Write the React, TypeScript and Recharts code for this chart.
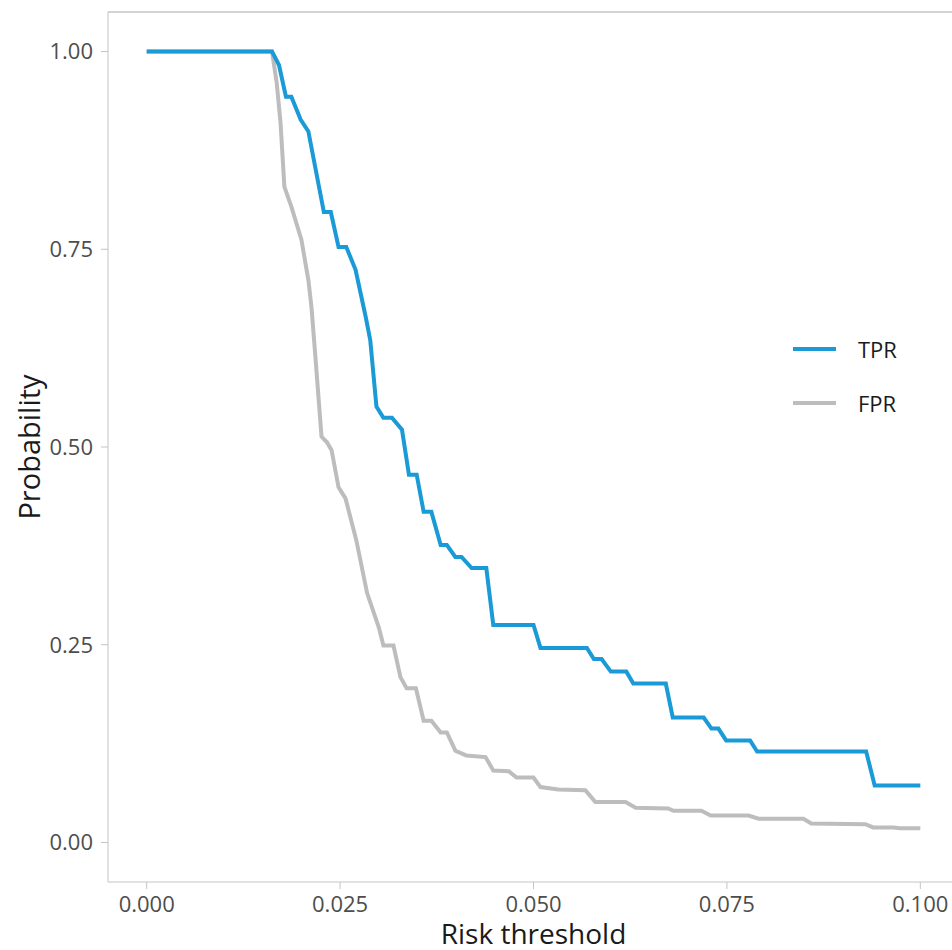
import { LineChart, Line, XAxis, YAxis, ReferenceLine } from 'recharts';

const tprThreshold = [0, 0.0162, 0.0171, 0.018, 0.0187, 0.0199, 0.0209, 0.0229, 0.0238, 0.0248, 0.0258, 0.027, 0.0283, 0.0289, 0.0297, 0.0306, 0.0317, 0.033, 0.0339, 0.0349, 0.0358, 0.0368, 0.038, 0.0388, 0.0399, 0.0407, 0.042, 0.0439, 0.0448, 0.05, 0.0509, 0.0569, 0.0578, 0.0588, 0.06, 0.062, 0.0629, 0.0671, 0.068, 0.072, 0.073, 0.0739, 0.0749, 0.078, 0.0789, 0.093, 0.0941, 0.1];
const tprValue = [1, 1, 0.983, 0.943, 0.943, 0.914, 0.899, 0.797, 0.797, 0.753, 0.753, 0.724, 0.665, 0.635, 0.551, 0.537, 0.537, 0.522, 0.465, 0.465, 0.418, 0.418, 0.376, 0.376, 0.361, 0.361, 0.347, 0.347, 0.275, 0.275, 0.246, 0.246, 0.232, 0.232, 0.216, 0.216, 0.201, 0.201, 0.158, 0.158, 0.144, 0.144, 0.129, 0.129, 0.115, 0.115, 0.072, 0.072];

const fprThreshold = [0, 0.0162, 0.0168, 0.0173, 0.0178, 0.0187, 0.02, 0.0209, 0.0213, 0.0218, 0.0226, 0.0233, 0.0239, 0.0248, 0.0257, 0.0271, 0.0285, 0.03, 0.0306, 0.0319, 0.0328, 0.0336, 0.0348, 0.0358, 0.0368, 0.038, 0.0388, 0.0399, 0.0413, 0.0438, 0.0448, 0.0468, 0.0478, 0.05, 0.0509, 0.0532, 0.0567, 0.058, 0.0619, 0.0632, 0.0674, 0.0681, 0.0717, 0.0729, 0.0778, 0.0791, 0.0849, 0.0859, 0.0929, 0.0939, 0.0965, 0.0974, 0.1];
const fprValue = [1, 1, 0.961, 0.91, 0.829, 0.804, 0.762, 0.711, 0.677, 0.615, 0.513, 0.506, 0.496, 0.449, 0.435, 0.382, 0.315, 0.272, 0.249, 0.249, 0.209, 0.195, 0.195, 0.154, 0.154, 0.139, 0.139, 0.116, 0.11, 0.108, 0.091, 0.09, 0.082, 0.082, 0.07, 0.067, 0.066, 0.051, 0.051, 0.044, 0.043, 0.04, 0.04, 0.034, 0.034, 0.03, 0.03, 0.024, 0.023, 0.019, 0.019, 0.018, 0.018];

const xTicks = [0, 0.025, 0.05, 0.075, 0.1];
const yTicks = [0, 0.25, 0.5, 0.75, 1];
const seriesNames = ['TPR', 'FPR'];
const seriesColors = ['#1a9ad6', '#bdbdbd'];

const tprData = tprThreshold.map((x, i) => ({ x, y: tprValue[i] }));
const fprData = fprThreshold.map((x, i) => ({ x, y: fprValue[i] }));

const font = '"Open Sans", sans-serif';
const borderColor = '#c4c4c4';

// legend sits outside the chart so it doesn't eat plot height
const LegendBox = () => (
  <div style={{ position: 'absolute', left: 793, top: 322, fontFamily: font, fontSize: 22, color: '#1a1a1a' }}>
    {seriesNames.map((name, i) => (
      <div key={name} style={{ display: 'flex', alignItems: 'center', height: 54 }}>
        <span style={{ display: 'inline-block', width: 43, height: 4, background: seriesColors[i], marginRight: 22 }} />
        <span>{name}</span>
      </div>
    ))}
  </div>
);

export default function App() {
  return (
    <div style={{ position: 'fixed', left: 0, top: 0, width: 952, height: 950, overflow: 'hidden', background: '#fff' }}>
      <LineChart width={1000} height={950} margin={{ top: 12, right: 41, bottom: 0, left: 0 }}>
        <XAxis
          type="number"
          dataKey="x"
          domain={[-0.005, 0.105]}
          ticks={xTicks}
          allowDataOverflow
          tickFormatter={(v: number) => v.toFixed(3)}
          height={68}
          tickSize={7}
          tickMargin={7}
          stroke={borderColor}
          tick={{ fill: '#4d4d4d', fontSize: 22, fontFamily: font }}
          label={{ value: 'Risk threshold', position: 'insideBottom', offset: 6, style: { fill: '#1a1a1a', fontSize: 28, fontFamily: font } }}
        />
        <YAxis
          type="number"
          dataKey="y"
          domain={[-0.05, 1.05]}
          ticks={yTicks}
          allowDataOverflow
          tickFormatter={(v: number) => v.toFixed(2)}
          width={108}
          tickSize={7}
          tickMargin={8}
          stroke={borderColor}
          tick={{ fill: '#4d4d4d', fontSize: 22, fontFamily: font }}
          label={{ value: 'Probability', angle: -90, position: 'insideLeft', offset: 30, style: { textAnchor: 'middle', fill: '#1a1a1a', fontSize: 29, fontFamily: font } }}
        />
        <ReferenceLine y={1.05} stroke={borderColor} strokeWidth={1.5} />
        <Line data={fprData} dataKey="y" name="FPR" type="linear" stroke={seriesColors[1]} strokeWidth={4} dot={false} isAnimationActive={false} />
        <Line data={tprData} dataKey="y" name="TPR" type="linear" stroke={seriesColors[0]} strokeWidth={4} dot={false} isAnimationActive={false} />
      </LineChart>
      <LegendBox />
    </div>
  );
}
